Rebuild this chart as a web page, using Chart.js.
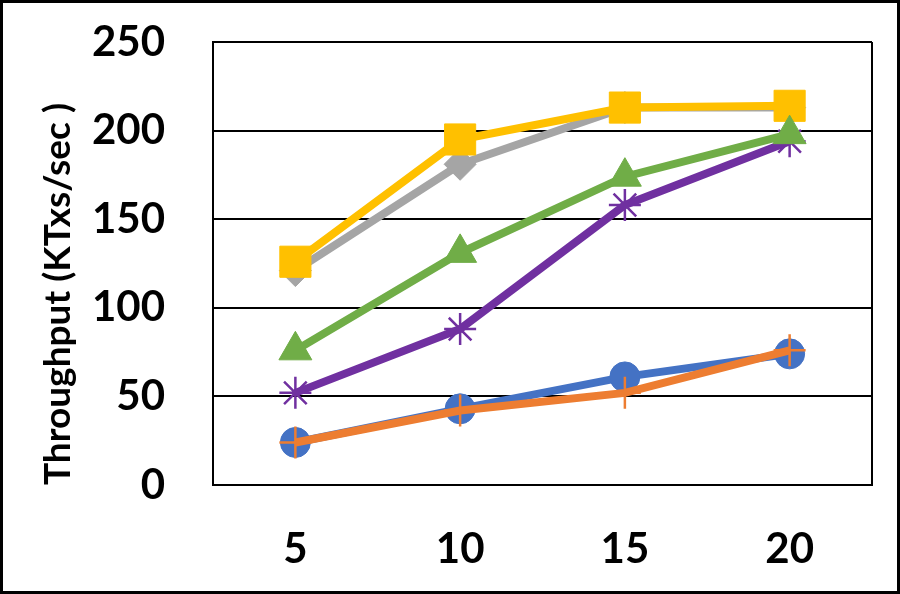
<!DOCTYPE html>
<html>
<head>
<meta charset="utf-8">
<script src="https://cdn.jsdelivr.net/npm/chart.js@4.4.0/dist/chart.umd.min.js"></script>
<style>
  html, body { margin: 0; padding: 0; background: #fff; }
  #wrap { width: 900px; height: 594px; }
</style>
</head>
<body>
<div id="wrap"><canvas id="tput" width="900" height="594"></canvas></div>
<script>
const categories = ["5", "10", "15", "20"];
const blueSeries = [24, 43, 61, 74];
const orangeSeries = [24, 42, 52, 76];
const graySeries = [121, 181, 213, 213];
const yellowSeries = [126, 195, 213, 214];
const greenSeries = [76, 131, 174, 198];
const purpleSeries = [52, 88, 158, 194];
const yTicks = [0, 50, 100, 150, 200, 250];

const ctx = document.getElementById("tput").getContext("2d");

const frame = {
  id: "frame",
  beforeDraw(chart) {
    const c = chart.ctx;
    c.save();
    c.fillStyle = "#fff";
    c.fillRect(0, 0, chart.width, chart.height);
    c.strokeStyle = "#000";
    c.lineWidth = 3;
    c.strokeRect(1.5, 1.5, chart.width - 3, chart.height - 3);
    c.restore();
  },
  beforeDatasetsDraw(chart) {
    const a = chart.chartArea;
    const c = chart.ctx;
    c.save();
    c.strokeStyle = "#000";
    c.lineWidth = 2;
    c.beginPath();
    c.moveTo(a.right, a.top);
    c.lineTo(a.right, a.bottom);
    c.stroke();
    c.restore();
  },
};

const line = (data, color, style, radius, bw) => ({
  data: data,
  borderColor: color,
  backgroundColor: color,
  borderWidth: 8,
  pointStyle: style,
  pointRadius: radius,
  pointBorderWidth: bw,
  pointBackgroundColor: color,
  pointBorderColor: color,
  tension: 0,
});

new Chart(ctx, {
  type: "line",
  data: {
    labels: categories,
    datasets: [
      line(greenSeries, "#70AD47", "triangle", 19, 1),
      line(purpleSeries, "#7030A0", "star", 16, 2.5),
      line(yellowSeries, "#FFC000", "rect", 22, 1),
      line(graySeries, "#A5A5A5", "rectRot", 16, 1),
      line(orangeSeries, "#ED7D31", "cross", 16, 2.5),
      line(blueSeries, "#4472C4", "circle", 15, 1),
    ],
  },
  options: {
    responsive: false,
    animation: false,
    layout: { padding: { top: 42, right: 28, left: 0, bottom: 0 } },
    plugins: { legend: { display: false }, tooltip: { enabled: false } },
    scales: {
      x: {
        offset: true,
        grid: { display: false, drawTicks: false },
        border: { display: true, color: "#000", width: 2 },
        ticks: {
          color: "#000",
          padding: 39,
          font: { family: "Lato", size: 42, weight: "bold" },
        },
        afterFit: (s) => { s.height = 109; },
      },
      y: {
        min: 0,
        max: 250,
        afterBuildTicks: (s) => { s.ticks = yTicks.map((v) => ({ value: v })); },
        grid: { color: "#000", lineWidth: 2, drawTicks: false },
        border: { display: true, color: "#000", width: 2 },
        ticks: {
          color: "#000",
          padding: 48,
          font: { family: "Lato", size: 42, weight: "bold" },
        },
        title: {
          display: true,
          text: "Throughput (KTxs/sec )",
          align: "start",
          color: "#000",
          padding: { top: 36, bottom: 0 },
          font: { family: "Lato", size: 37, weight: "bold" },
        },
        afterFit: (s) => {
          s.width = 213;
          s.paddingTop = 0;
          s.paddingBottom = 0;
        },
      },
    },
  },
  plugins: [frame],
});
</script>
</body>
</html>
